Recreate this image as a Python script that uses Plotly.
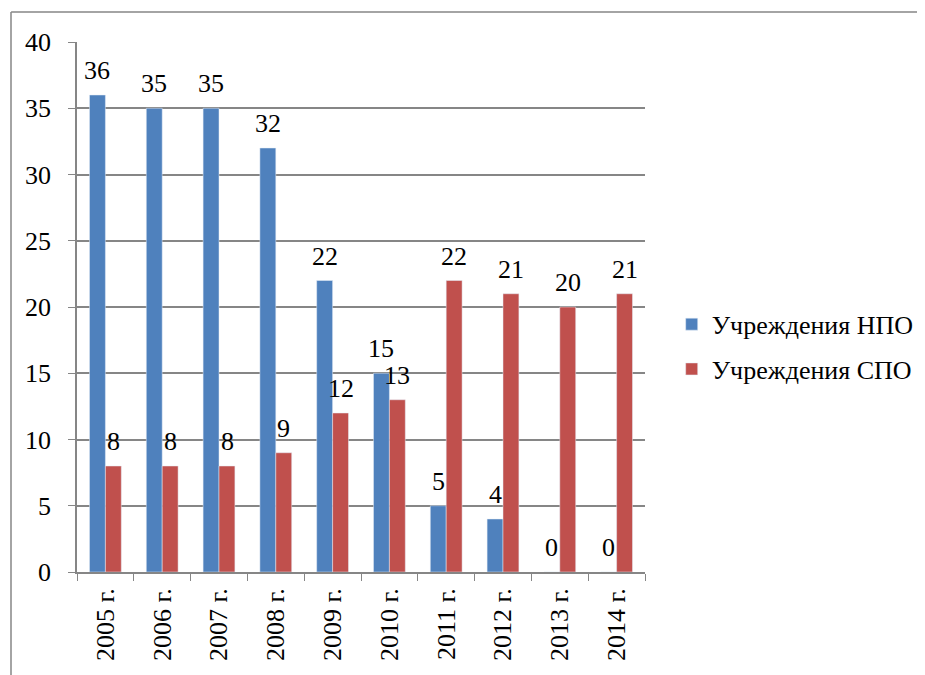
import plotly.graph_objects as go

years = ["2005 г.", "2006 г.", "2007 г.", "2008 г.", "2009 г.",
         "2010 г.", "2011 г.", "2012 г.", "2013 г.", "2014 г."]
npo = [36, 35, 35, 32, 22, 15, 5, 4, 0, 0]
spo = [8, 8, 8, 9, 12, 13, 22, 21, 20, 21]

font = "Times New Roman, Liberation Serif, serif"
grey = "#868686"
fs = 26

fig = go.Figure()
fig.add_trace(go.Bar(x=years, y=npo, name="Учреждения НПО", marker_color="#4F81BD",
                     legendgroup="npo"))
fig.add_trace(go.Bar(x=years, y=spo, name="Учреждения СПО", marker_color="#C0504D",
                     legendgroup="spo"))

# value labels above each bar
for yr, a, b in zip(years, npo, spo):
    fig.add_annotation(x=yr, y=a, text=str(a), showarrow=False, xshift=-8,
                       yanchor="bottom", yshift=8)
    fig.add_annotation(x=yr, y=b, text=str(b), showarrow=False, xshift=8,
                       yanchor="bottom", yshift=8)

# outer frame (top and left edges visible)
frame = dict(color=grey, width=1.5)
fig.add_shape(type="line", xref="paper", yref="paper", x0=-0.116, x1=1.5,
              y0=1.0566, y1=1.0566, line=frame)
fig.add_shape(type="line", xref="paper", yref="paper", x0=-0.1162, x1=-0.1162,
              y0=1.0566, y1=-0.25, line=frame)

# page body has an 8px margin, so the figure is offset by 8px
fig.update_layout(
    width=925, height=675,
    margin=dict(l=69, r=288, t=34, b=111, autoexpand=False),
    paper_bgcolor="white", plot_bgcolor="white",
    barmode="group", bargap=0.44, bargroupgap=0,
    font=dict(family=font, size=fs, color="black"),
    showlegend=True,
    legend=dict(x=1.047, y=0.425, xanchor="left", yanchor="middle",
                font=dict(size=fs, family=font), itemwidth=30, tracegroupgap=8),
)
fig.update_xaxes(type="category", tickangle=-90, showline=True, linecolor=grey,
                 linewidth=1.5, ticks="outside", ticklen=7, tickcolor=grey,
                 tickson="boundaries", showgrid=False, ticklabelstandoff=4,
                 tickfont=dict(size=fs, family=font))
fig.update_yaxes(range=[0, 40], dtick=5, showline=True, linecolor=grey, linewidth=1.5,
                 ticks="outside", ticklen=7, tickcolor=grey, showgrid=True,
                 gridcolor=grey, gridwidth=1.5, zeroline=False, ticklabelstandoff=12,
                 tickfont=dict(size=fs, family=font))

fig.write_html("out.html")
